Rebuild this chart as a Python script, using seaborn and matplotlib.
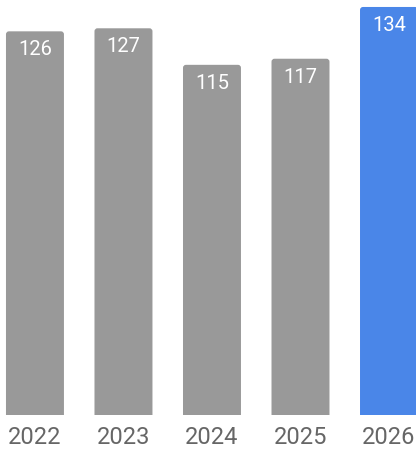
import matplotlib
matplotlib.use("Agg")
import matplotlib.pyplot as plt
from matplotlib.patches import FancyBboxPatch
import seaborn as sns
import pandas as pd

# 数据
years = ["2022", "2023", "2024", "2025", "2026"]
values = [126, 127, 115, 117, 134]
bar_colors = ["#999999", "#999999", "#999999", "#999999", "#4a86e8"]

df = pd.DataFrame({"year": years, "value": values})

sns.set_style("white")
plt.rcParams["font.family"] = ["Roboto", "DejaVu Sans"]

W, H = 416, 451
fig = plt.figure(figsize=(W / 100, H / 100), dpi=100)
ax = fig.add_axes([0, 36 / H, 1, (H - 36) / H])

sns.barplot(data=df, x="year", y="value", hue="year", palette=bar_colors,
            width=0.655, legend=False, saturation=1, ax=ax)

ax.set_xlim(-0.395, 4.305)
ax.set_ylim(0, 415 / 3.045)

# 圆角柱子：用 FancyBboxPatch 替换原来的矩形
px_x = 88.5          # 每个类别的像素宽度
px_y = 3.045         # 每单位数值的像素高度
r = 3 / px_x
for p in list(ax.patches):
    x0, w, h = p.get_x(), p.get_width(), p.get_height()
    fc = p.get_facecolor()
    p.remove()
    box = FancyBboxPatch((x0, -3), w, h + 3,
                         boxstyle=f"round,pad=0,rounding_size={r}",
                         mutation_aspect=px_x / px_y,
                         facecolor=fc, edgecolor="none")
    ax.add_patch(box)
    ax.annotate(f"{h:.0f}", (x0 + w / 2, h), xytext=(0, -18.5),
                textcoords="offset pixels", ha="center", va="center",
                color="white", fontsize=14.5)

ax.set_xlabel("")
ax.set_ylabel("")
ax.set_yticks([])
ax.tick_params(axis="x", length=0, pad=8, labelsize=17, labelcolor="#666666")
sns.despine(ax=ax, left=True, bottom=True)

fig.savefig("out.png", dpi=100)
